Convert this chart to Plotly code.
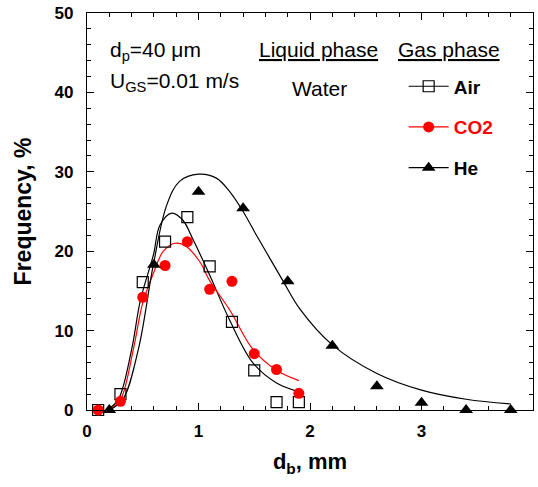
import plotly.graph_objects as go

# Measured bubble size distributions (d_b in mm, frequency in %)
air_d = [0.1, 0.3, 0.5, 0.7, 0.9, 1.1, 1.3, 1.5, 1.7, 1.9]
air_f = [0.0, 2.0, 16.1, 21.2, 24.3, 18.1, 11.1, 5.0, 1.0, 1.0]

co2_d = [0.1, 0.3, 0.5, 0.7, 0.9, 1.1, 1.3, 1.5, 1.7, 1.9]
co2_f = [0.0, 1.1, 14.2, 18.2, 21.2, 15.2, 16.2, 7.1, 5.1, 2.1]

he_d = [0.2, 0.6, 1.0, 1.4, 1.8, 2.2, 2.6, 3.0, 3.4, 3.8]
he_f = [0.0, 18.3, 27.5, 25.4, 16.2, 8.1, 3.0, 0.9, 0.0, 0.0]

# Fitted distribution curves
air_fit_d = [0.18, 0.28, 0.40, 0.48, 0.595, 0.655, 0.76, 0.86, 0.95, 1.10, 1.28, 1.49, 1.70, 1.90]
air_fit_f = [0.0, 1.3, 7.6, 13.9, 19.5, 23.3, 24.8, 23.9, 21.5, 17.0, 11.3, 5.9, 3.4, 2.3]

co2_fit_d = [0.20, 0.30, 0.415, 0.50, 0.595, 0.685, 0.79, 0.89, 1.01, 1.10, 1.28, 1.49, 1.70, 1.90]
co2_fit_f = [0.0, 1.3, 7.6, 13.5, 17.2, 20.0, 21.0, 20.6, 18.7, 16.3, 12.6, 7.6, 5.0, 3.7]

he_fit_d = [0.20, 0.32, 0.46, 0.595, 0.715, 0.83, 1.00, 1.16, 1.28, 1.40, 1.52, 1.64, 1.76, 1.91,
            2.20, 2.60, 3.00, 3.40, 3.80]
he_fit_f = [0.0, 1.3, 7.6, 18.3, 25.8, 28.8, 29.7, 29.2, 27.5, 25.0, 22.0, 19.1, 16.2, 12.7,
            8.2, 4.6, 2.5, 1.35, 0.76]

x_ticks = [0, 1, 2, 3, 4]
y_ticks = [0, 10, 20, 30, 40, 50]

RED = "#FF0000"
BLACK = "#000000"
FONT = "Liberation Sans, Arial, sans-serif"

fig = go.Figure()

# fitted curves
for d, f, c in [(air_fit_d, air_fit_f, BLACK), (co2_fit_d, co2_fit_f, RED), (he_fit_d, he_fit_f, BLACK)]:
    fig.add_trace(go.Scatter(x=d, y=f, mode="lines", line=dict(color=c, width=1.2, shape="spline"),
                             showlegend=False, hoverinfo="skip"))

# measured points
fig.add_trace(go.Scatter(x=air_d, y=air_f, mode="markers", showlegend=False, cliponaxis=False,
                         marker=dict(symbol="square-open", size=11, color=BLACK, line=dict(width=1.2))))
fig.add_trace(go.Scatter(x=co2_d, y=co2_f, mode="markers", showlegend=False, cliponaxis=False,
                         marker=dict(symbol="circle", size=11, color=RED, line=dict(width=0))))
fig.add_trace(go.Scatter(x=he_d, y=he_f, mode="markers", showlegend=False, cliponaxis=False,
                         marker=dict(symbol="triangle-up", size=12, color=BLACK, line=dict(width=0))))

# legend entries (line + symbol)
fig.add_trace(go.Scatter(x=[None], y=[None], mode="lines+markers", name="<b>Air</b>", legendgroup="a",
                         line=dict(color=BLACK, width=1.2),
                         marker=dict(symbol="square-open", size=11, color=BLACK, line=dict(width=1.2))))
fig.add_trace(go.Scatter(x=[None], y=[None], mode="lines+markers",
                         name="<b><span style='color:#FF0000'>CO2</span></b>", legendgroup="b",
                         line=dict(color=RED, width=1.2),
                         marker=dict(symbol="circle", size=11, color=RED)))
fig.add_trace(go.Scatter(x=[None], y=[None], mode="lines+markers", name="<b>He</b>", legendgroup="c",
                         line=dict(color=BLACK, width=1.2),
                         marker=dict(symbol="triangle-up", size=12, color=BLACK)))

axis_common = dict(
    showline=True, linecolor=BLACK, linewidth=1.3, mirror="ticks",
    ticks="inside", ticklen=7, tickwidth=1.3, tickcolor=BLACK,
    showgrid=False, zeroline=False,
    tickfont=dict(family=FONT, size=17, color=BLACK, weight="bold"),
)

fig.update_xaxes(range=[0, 4], tickvals=x_ticks, ticktext=[str(v) for v in x_ticks],
                 minor=dict(ticks="inside", dtick=0.2, ticklen=4, tickwidth=1, tickcolor=BLACK),
                 title=dict(text="<b>d<sub>b</sub>, mm</b>", font=dict(family=FONT, size=22, color=BLACK),
                            standoff=14),
                 ticklabelstandoff=5, **axis_common)
fig.update_yaxes(range=[0, 50], tickvals=y_ticks, ticktext=[str(v) for v in y_ticks],
                 minor=dict(ticks="inside", dtick=2, ticklen=4, tickwidth=1, tickcolor=BLACK),
                 title=dict(text="<b>Frequency, %</b>", font=dict(family=FONT, size=23, color=BLACK),
                            standoff=16),
                 ticklabelstandoff=9, **axis_common)

ann_font = dict(family=FONT, size=21, color=BLACK)
annotations = [
    dict(text="d<sub>p</sub>=40 μm", x=0.047, y=0.905, xanchor="left", yanchor="middle"),
    dict(text="U<sub>GS</sub>=0.01 m/s", x=0.047, y=0.826, xanchor="left", yanchor="middle"),
    dict(text="<u>Liquid phase</u>", x=0.381, y=0.907, xanchor="left", yanchor="middle"),
    dict(text="<u>Gas phase</u>", x=0.693, y=0.907, xanchor="left", yanchor="middle"),
    dict(text="Water", x=0.522, y=0.809, xanchor="center", yanchor="middle"),
]
for a in annotations:
    fig.add_annotation(xref="paper", yref="paper", showarrow=False, font=ann_font, **a)

fig.update_layout(
    width=538, height=487,
    margin=dict(l=87, r=5, t=13, b=77),
    paper_bgcolor="white", plot_bgcolor="white",
    font=dict(family=FONT, color=BLACK),
    legend=dict(x=0.71, y=0.863, xanchor="left", yanchor="top", bgcolor="rgba(0,0,0,0)",
                font=dict(family=FONT, size=19, color=BLACK), itemwidth=40,
                tracegroupgap=13, traceorder="grouped"),
    showlegend=True,
)

fig.write_html("out.html")
